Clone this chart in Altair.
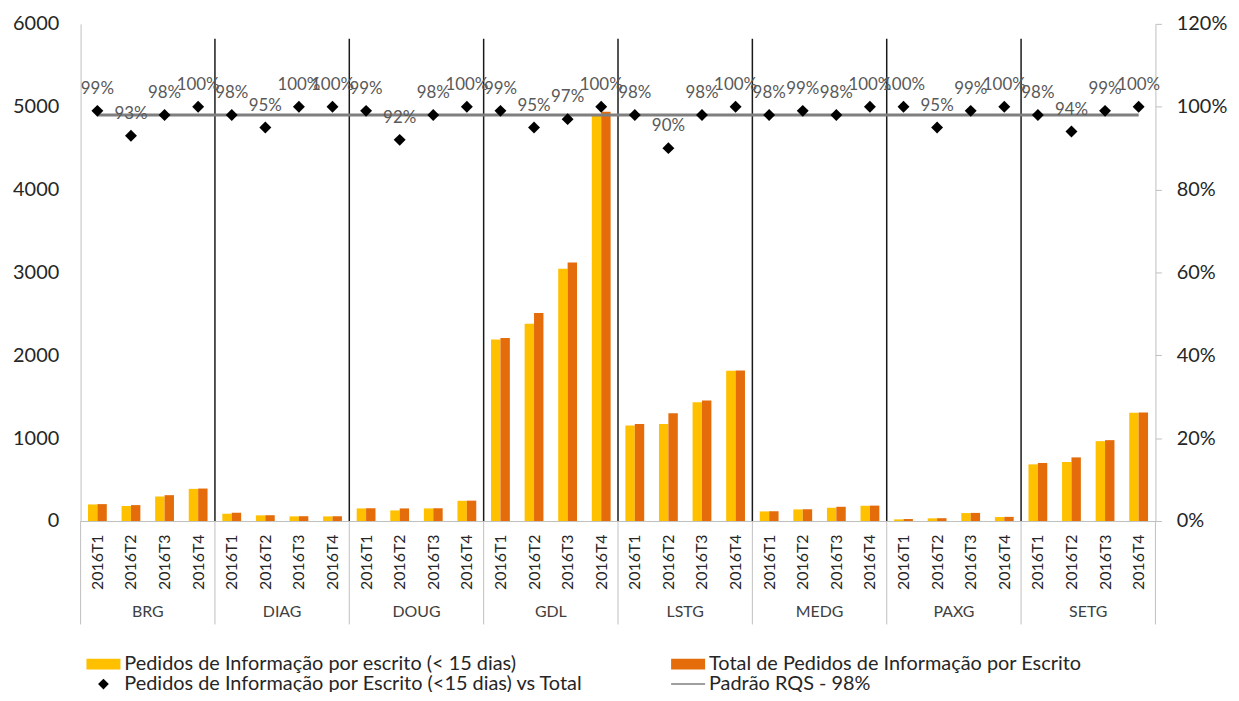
import altair as alt
import pandas as pd

groups = ["BRG", "DIAG", "DOUG", "GDL", "LSTG", "MEDG", "PAXG", "SETG"]
quarters = ["2016T1", "2016T2", "2016T3", "2016T4"]

within15 = [200, 180, 296, 388,
            88, 68, 56, 56,
            152, 128, 152, 244,
            2190, 2380, 3045, 4910,
            1152, 1172, 1432, 1815,
            116, 140, 160, 184,
            20, 32, 96, 48,
            684, 712, 964, 1308]
total = [204, 192, 312, 392,
         100, 70, 58, 58,
         154, 152, 154, 246,
         2210, 2510, 3120, 4940,
         1172, 1300, 1456, 1818,
         118, 142, 172, 186,
         24, 34, 98, 50,
         700, 768, 976, 1310]
pct = [0.99, 0.93, 0.98, 1.00,
       0.98, 0.95, 1.00, 1.00,
       0.99, 0.92, 0.98, 1.00,
       0.99, 0.95, 0.97, 1.00,
       0.98, 0.90, 0.98, 1.00,
       0.98, 0.99, 0.98, 1.00,
       1.00, 0.95, 0.99, 1.00,
       0.98, 0.94, 0.99, 1.00]
standard = 0.98

series_names = [
    "Pedidos de Informação por escrito (< 15 dias)",
    "Total de Pedidos de Informação por Escrito",
    "Pedidos de Informação por Escrito (<15 dias) vs Total",
    "Padrão RQS - 98%",
]
YEL, ORA, GRY = "#FFC000", "#E46C0A", "#7F7F7F"

nq = len(quarters)
n = len(groups) * nq

rows = []
for gi, g in enumerate(groups):
    for qi, q in enumerate(quarters):
        i = gi * nq + qi
        rows.append({"group": g, "quarter": q, "idx": i,
                     "within": within15[i], "total": total[i], "pct": pct[i]})
df = pd.DataFrame(rows)

long_rows = []
for r in rows:
    long_rows.append({"idx": r["idx"], "series": series_names[0], "value": r["within"]})
    long_rows.append({"idx": r["idx"], "series": series_names[1], "value": r["total"]})
bars_df = pd.DataFrame(long_rows)

bounds_df = pd.DataFrame({"b": [k * nq - 0.5 for k in range(len(groups) + 1)]})

xscale = alt.Scale(domain=[-0.5, n - 0.5], nice=False, zero=False)
yscale = alt.Scale(domain=[0, 6000], nice=False)
pscale = alt.Scale(domain=[0, 1.2], nice=False)

label_expr = "[" + ",".join("'%s'" % q for q in quarters) + "][datum.value % " + str(nq) + "]"

xaxis = alt.Axis(values=list(range(n)), labelExpr=label_expr, labelAngle=270,
                 ticks=False, grid=False, domainColor="#BFBFBF",
                 labelFontSize=16, labelFont="Lato", labelColor="#262626",
                 labelPadding=13, title="")
laxis = alt.Axis(values=[0, 1000, 2000, 3000, 4000, 5000, 6000], format="d", grid=False,
                 ticks=False, domainColor="#BFBFBF", labelFontSize=20,
                 labelFont="Lato", labelColor="#262626", labelPadding=22, title="")
raxis = alt.Axis(orient="right", format=".0%", values=[0, 0.2, 0.4, 0.6, 0.8, 1.0, 1.2],
                 grid=False, ticks=True, tickColor="#BFBFBF", tickSize=6,
                 domainColor="#BFBFBF", labelFontSize=20, labelFont="Lato",
                 labelColor="#262626", labelPadding=15, title="")

bar_path = "M-1.9,-0.6H1.9V0.6H-1.9Z"
dia_path = "M0,-0.6L0.6,0L0,0.6L-0.6,0Z"
line_path = "M-1.9,0H1.9"

fill_scale = alt.Scale(domain=series_names, range=[YEL, ORA, "black", "transparent"])
stroke_scale = alt.Scale(domain=series_names,
                         range=["transparent", "transparent", "transparent", GRY])
shape_scale = alt.Scale(domain=series_names, range=[bar_path, bar_path, dia_path, line_path])

legend = alt.Legend(
    orient="none", legendX=13, legendY=634, columns=2, direction="horizontal",
    title="", titlePadding=0,
    symbolSize=324, rowPadding=0, columnPadding=84,
    labelFontSize=20, labelFont="Lato", labelColor="#262626", labelLimit=1000,
    labelOffset=11, symbolOpacity=1,
)

bars = alt.Chart(bars_df).transform_calculate(
    x0="datum.idx + (datum.series == '%s' ? -0.28 : 0)" % series_names[0],
    x1="datum.idx + (datum.series == '%s' ? 0 : 0.28)" % series_names[0],
).mark_rect().encode(
    x=alt.X("x0:Q", scale=xscale, axis=xaxis, title=""),
    x2="x1:Q",
    y=alt.Y("value:Q", scale=yscale, axis=laxis, title=""),
    y2=alt.Y2Datum(0),
    fill=alt.Fill("series:N", scale=fill_scale, legend=legend),
)

seps = alt.Chart(bounds_df).transform_filter(
    "datum.b > 0 && datum.b < %d" % (n - 1)
).mark_rule(color="#1a1a1a", strokeWidth=1.5).encode(
    x=alt.X("b:Q", scale=xscale, axis=xaxis, title=""),
    y=alt.YDatum(0, type="quantitative", scale=yscale, axis=laxis, title=""),
    y2=alt.Y2Datum(5820),
)

label_lines = alt.Chart(bounds_df).mark_rule(color="#BFBFBF", strokeWidth=1).encode(
    x=alt.X("b:Q", scale=xscale, axis=xaxis, title=""),
    y=alt.value(500),
    y2=alt.value(604),
)

group_text = alt.Chart(df).transform_aggregate(
    c="mean(idx)", groupby=["group"]
).mark_text(fontSize=16, font="Lato", color="#404040").encode(
    x=alt.X("c:Q", scale=xscale, axis=xaxis, title=""),
    y=alt.value(592),
    text="group:N",
)

ref = alt.Chart(df).transform_aggregate(
    lo="min(idx)", hi="max(idx)"
).mark_rule(color=GRY, strokeWidth=3).encode(
    x=alt.X("lo:Q", scale=xscale, axis=xaxis, title=""),
    x2="hi:Q",
    y=alt.YDatum(standard, type="quantitative", scale=pscale, axis=raxis, title=""),
)

points = alt.Chart(df).transform_calculate(
    series="'%s'" % series_names[2]
).mark_point(filled=True, size=400, opacity=1, strokeWidth=3).encode(
    x=alt.X("idx:Q", scale=xscale, axis=xaxis, title=""),
    y=alt.Y("pct:Q", scale=pscale, axis=raxis, title=""),
    fill=alt.Fill("series:N", scale=fill_scale, legend=legend),
    stroke=alt.Stroke("series:N", scale=stroke_scale, legend=legend),
    shape=alt.Shape("series:N", scale=shape_scale, legend=legend),
)

plabels = alt.Chart(df).mark_text(dy=-22, fontSize=17, font="Lato", color="#595959").encode(
    x=alt.X("idx:Q", scale=xscale, axis=xaxis, title=""),
    y=alt.Y("pct:Q", scale=pscale, axis=raxis, title=""),
    text=alt.Text("pct:Q", format=".0%"),
)

left = alt.layer(bars, seps, label_lines, group_text)
right = alt.layer(ref, points, plabels)

chart = alt.layer(left, right).resolve_scale(y="independent").properties(
    width=1081, height=500,
    autosize=alt.AutoSizeParams(type="none"),
    padding={"left": 73, "top": 14, "right": 76, "bottom": 170},
).configure_view(strokeWidth=0)

chart.save("out.html", embed_options={"renderer": "svg", "actions": False})
